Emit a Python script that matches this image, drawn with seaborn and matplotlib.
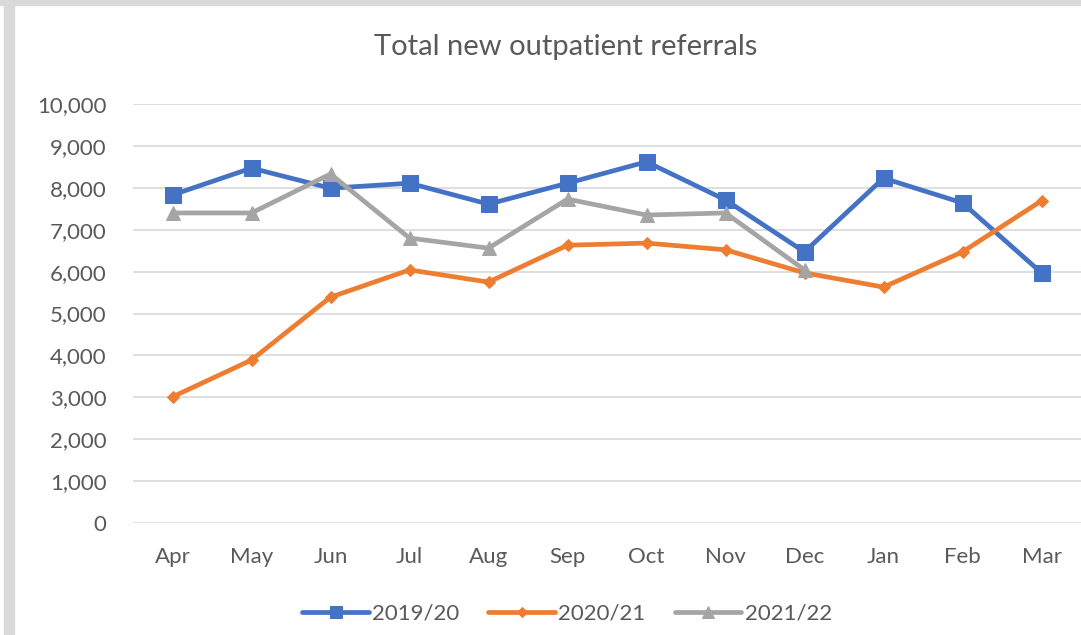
import matplotlib
matplotlib.use("Agg")
import matplotlib.pyplot as plt
import seaborn as sns
import pandas as pd
from matplotlib.patches import Rectangle
from matplotlib.ticker import FuncFormatter

months = ["Apr", "May", "Jun", "Jul", "Aug", "Sep", "Oct", "Nov", "Dec", "Jan", "Feb", "Mar"]
y2019 = [7830, 8470, 7990, 8110, 7610, 8110, 8620, 7710, 6470, 8230, 7640, 5970]
y2020 = [3010, 3890, 5390, 6040, 5750, 6630, 6680, 6520, 5970, 5630, 6470, 7690]
y2021 = [7400, 7400, 8330, 6800, 6560, 7730, 7350, 7400, 6040]
series_names = ["2019/20", "2020/21", "2021/22"]
colors = ["#4472C4", "#ED7D31", "#A5A5A5"]

rows = []
for name, vals in zip(series_names, [y2019, y2020, y2021]):
    for i, v in enumerate(vals):
        rows.append({"month": months[i], "x": i, "value": v, "series": name})
df = pd.DataFrame(rows)

sns.set_theme(style="white")
plt.rcParams["font.family"] = ["Lato", "DejaVu Sans"]

fig = plt.figure(figsize=(10.81, 6.35), dpi=100)
ax = fig.add_axes([133 / 1081, 1 - 523 / 635, 1 - 133 / 1081, (523 - 104) / 635])

# gray frame bits (top and left)
fig.patches.append(Rectangle((0, 1 - 5 / 635), 1, 5 / 635, transform=fig.transFigure,
                             color="#D9D9D9", zorder=0))
fig.patches.append(Rectangle((4 / 1081, 0), 10 / 1081, 1, transform=fig.transFigure,
                             color="#D9D9D9", zorder=0))

markers = {"2019/20": "s", "2020/21": "D", "2021/22": "^"}
sizes = {"2019/20": 11, "2020/21": 6.5, "2021/22": 10}
for name, col in zip(series_names, colors):
    sub = df[df["series"] == name]
    sns.lineplot(data=sub, x="x", y="value", ax=ax, color=col, linewidth=3.4,
                 marker=markers[name], markersize=sizes[name], markeredgecolor=col,
                 markerfacecolor=col, label=name, zorder=3)

ax.set_xlim(-0.5, 11.5)
ax.set_ylim(0, 10000)
ax.set_yticks(range(0, 10001, 1000))
ax.yaxis.set_major_formatter(FuncFormatter(lambda v, p: f"{int(v):,}"))
ax.set_xticks(range(12))
ax.set_xticklabels(months)
ax.grid(axis="y", color="#D9D9D9", linewidth=1.2)
ax.grid(axis="x", visible=False)
for s in ax.spines.values():
    s.set_visible(False)
ax.tick_params(axis="both", length=0, labelsize=16, colors="#595959")
ax.tick_params(axis="y", pad=19)
ax.tick_params(axis="x", pad=17)
ax.set_xlabel("")
ax.set_ylabel("")

fig.text(566 / 1081, 1 - 47 / 635, "Total new outpatient referrals", ha="center", va="center",
         fontsize=21, color="#595959")

leg = ax.legend(loc="center", bbox_to_anchor=(567 / 1081, 1 - 614 / 635),
                bbox_transform=fig.transFigure, ncol=3, frameon=False, fontsize=16,
                handlelength=3.0, columnspacing=1.3, handletextpad=0.15, markerscale=0.8)
for t in leg.get_texts():
    t.set_color("#595959")

fig.savefig("out.png", dpi=100, facecolor="white")
